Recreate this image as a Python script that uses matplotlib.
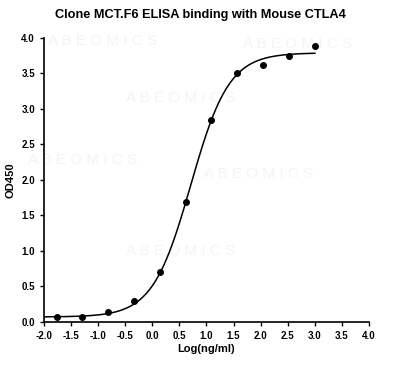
import numpy as np
import matplotlib.pyplot as plt

plt.rcParams['font.family'] = ['Liberation Sans', 'DejaVu Sans']
plt.rcParams['font.weight'] = 'bold'

# Data (log concentration vs OD450)
log_conc = [-1.76, -1.29, -0.81, -0.34, 0.14, 0.62, 1.09, 1.57, 2.05, 2.52, 3.00]
od450 = [0.066, 0.075, 0.137, 0.29, 0.71, 1.69, 2.84, 3.50, 3.62, 3.74, 3.89]

# 4PL fit parameters
bottom = 0.07
top = 3.79
log_ec50 = 0.71
hill = 1.23

fig = plt.figure(figsize=(4.0, 3.65), dpi=100)
ax = fig.add_axes([0.11, 0.118, 0.8125, 0.778])

xs = np.linspace(-2.0, 3.0, 300)
fit = bottom + (top - bottom) / (1 + 10 ** ((log_ec50 - xs) * hill))
ax.plot(xs, fit, color='black', lw=1.1)
ax.plot(log_conc, od450, 'o', color='black', ms=4)

# faint watermarks
for (wx, wy) in [(0.18, 0.99), (0.78, 0.98), (0.42, 0.79), (0.12, 0.57),
                 (0.66, 0.52), (0.42, 0.25)]:
    ax.text(wx, wy, 'A B E O M I C S', transform=ax.transAxes, fontsize=11,
            color='#f4f4f4', fontweight='normal', ha='center', va='center',
            zorder=0)

ax.set_xlim(-2.0, 4.0)
ax.set_ylim(0.0, 4.0)
ax.set_xticks(np.arange(-2.0, 4.01, 0.5))
ax.set_yticks(np.arange(0.0, 4.01, 0.5))
ax.xaxis.set_major_formatter(plt.FormatStrFormatter('%.1f'))
ax.yaxis.set_major_formatter(plt.FormatStrFormatter('%.1f'))
ax.tick_params(labelsize=7, width=1, length=3)
for s in ['top', 'right']:
    ax.spines[s].set_visible(False)
for s in ['left', 'bottom']:
    ax.spines[s].set_linewidth(1.2)

ax.set_xlabel('Log(ng/ml)', fontsize=8, fontweight='bold', labelpad=2)
ax.set_ylabel('OD450', fontsize=8, fontweight='bold', labelpad=4)
fig.suptitle('Clone MCT.F6 ELISA binding with Mouse CTLA4', fontsize=9.2,
             fontweight='bold', y=0.975)

fig.savefig('out.png', dpi=100)
